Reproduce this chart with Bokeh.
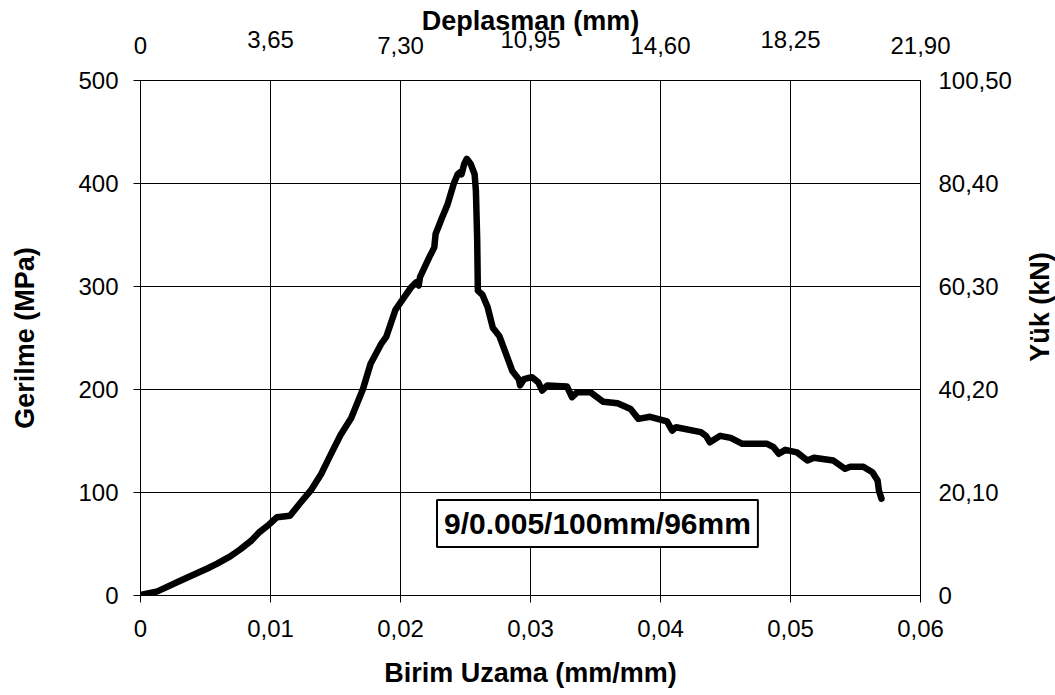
import math
from bokeh.plotting import figure
from bokeh.layouts import row
from bokeh.models import Range1d, LinearAxis, FixedTicker, Label
from bokeh.core.properties import value
from bokeh.embed import file_html
from bokeh.resources import INLINE

# ---- data ----
strain = [0.0000, 0.0013, 0.0031, 0.0051, 0.0059, 0.0069, 0.0077, 0.0085, 0.0091, 0.0099,
          0.0105, 0.0115, 0.0123, 0.0131, 0.0139, 0.0146, 0.0154, 0.0162, 0.0171, 0.0177,
          0.0185, 0.0189, 0.0196, 0.0203, 0.0208, 0.0212, 0.0214, 0.0215, 0.0222, 0.0226,
          0.0227, 0.0232, 0.0236, 0.0237, 0.0241, 0.0244, 0.0246, 0.0247, 0.0249, 0.0251,
          0.0254, 0.0257, 0.0258, 0.0259, 0.02595, 0.0263, 0.0267, 0.0270, 0.0271, 0.0276,
          0.0281, 0.0286, 0.0291, 0.0292, 0.0295, 0.0301, 0.0306, 0.0309, 0.0313, 0.0328,
          0.0332, 0.0336, 0.0346, 0.0356, 0.0367, 0.0377, 0.0383, 0.0392, 0.0405, 0.0409,
          0.0412, 0.0431, 0.0435, 0.0438, 0.0446, 0.0454, 0.0463, 0.0482, 0.0487, 0.0491,
          0.0496, 0.0505, 0.0513, 0.0518, 0.0533, 0.0542, 0.0546, 0.0556, 0.0563, 0.0567,
          0.0568, 0.0570]
stress = [0.5, 4, 14.5, 26, 31, 38, 45, 53, 61, 69,
          76, 77.5, 90, 102, 118, 136, 156, 172, 200, 225,
          244, 251, 277, 290, 299, 304, 301, 309, 328, 338,
          351, 367, 379, 383, 400, 409, 411, 409, 419, 424,
          419, 409, 393, 345, 296, 292, 280, 265, 260, 252,
          235, 218, 210, 204, 210, 212, 207, 199, 204, 203,
          192.5, 197.4, 197.4, 188, 186.7, 181, 171.5, 173.5, 169, 160,
          163.4, 158.6, 155, 148.8, 155, 153, 147.3, 147.3, 144, 137.6,
          141.4, 139, 131, 133.7, 131, 123, 125, 125, 119.7, 111.6,
          102, 94]

x_ticks = [0, 0.01, 0.02, 0.03, 0.04, 0.05, 0.06]
x_tick_labels = ["0", "0,01", "0,02", "0,03", "0,04", "0,05", "0,06"]
disp_labels = ["0", "3,65", "7,30", "10,95", "14,60", "18,25", "21,90"]
y_ticks = [0, 100, 200, 300, 400, 500]
load_labels = ["0", "20,10", "40,20", "60,30", "80,40", "100,50"]

x_title = "Birim Uzama (mm/mm)"
y_title = "Gerilme (MPa)"
top_title = "Deplasman (mm)"
right_title = "Yük (kN)"
box_text = "9/0.005/100mm/96mm"

FONT = "Liberation Sans"
H = 694
BT, BB = 80, 99

p = figure(width=1015, height=H, output_backend="svg", toolbar_location=None,
           x_range=Range1d(0, 0.06), y_range=Range1d(0, 500),
           min_border_left=140, min_border_right=95, min_border_top=BT, min_border_bottom=BB)
p.background_fill_color = "white"
p.border_fill_color = "white"
p.outline_line_color = "#000000"
p.outline_line_width = 1

# grid
p.xgrid.ticker = FixedTicker(ticks=x_ticks)
p.ygrid.ticker = FixedTicker(ticks=y_ticks)
for g in (p.xgrid, p.ygrid):
    g.grid_line_color = "#000000"
    g.grid_line_width = 1

def style_axis(ax, tick_out):
    ax.axis_line_color = "#000000"
    ax.major_tick_line_color = "#000000"
    ax.major_tick_out = tick_out
    ax.major_tick_in = 0
    ax.minor_tick_line_color = None
    ax.major_label_text_font = FONT
    ax.major_label_text_font_size = "24px"
    ax.major_label_text_color = "#000000"
    ax.axis_label_text_font = FONT
    ax.axis_label_text_font_size = "27px"
    ax.axis_label_text_font_style = "bold"
    ax.axis_label_text_color = "#000000"

xb = p.xaxis[0]
xb.ticker = FixedTicker(ticks=x_ticks)
xb.major_label_overrides = {t: l for t, l in zip(x_ticks, x_tick_labels)}
style_axis(xb, 7)
xb.major_label_standoff = 17
xb.axis_label = x_title
xb.axis_label_standoff = 18

yl = p.yaxis[0]
yl.ticker = FixedTicker(ticks=y_ticks)
yl.major_label_overrides = {t: str(t) for t in y_ticks}
style_axis(yl, 7)
yl.major_label_standoff = 15
yl.axis_label = y_title
yl.axis_label_standoff = 35

yr = LinearAxis(ticker=FixedTicker(ticks=y_ticks))
yr.major_label_overrides = {t: l for t, l in zip(y_ticks, load_labels)}
style_axis(yr, 0)
yr.major_label_standoff = 18
p.add_layout(yr, "right")

# top (displacement) axes: two staggered rows, as in the original
low_idx = [0, 2, 4, 6]
high_idx = [1, 3, 5]
ta = LinearAxis(ticker=FixedTicker(ticks=[x_ticks[i] for i in low_idx]))
ta.major_label_overrides = {x_ticks[i]: disp_labels[i] for i in low_idx}
style_axis(ta, 0)
ta.axis_line_color = None
ta.major_tick_line_color = None
ta.major_label_standoff = 27
p.add_layout(ta, "above")

tb = LinearAxis(ticker=FixedTicker(ticks=[x_ticks[i] for i in high_idx]))
tb.major_label_overrides = {x_ticks[i]: disp_labels[i] for i in high_idx}
style_axis(tb, 0)
tb.axis_line_color = None
tb.major_tick_line_color = None
tb.major_label_standoff = -14
tb.axis_label = top_title
tb.axis_label_standoff = -8
p.add_layout(tb, "above")

# curve
p.line(strain, stress, line_color="black", line_width=6.5,
       line_join="round", line_cap="round")

# annotation box
p.add_layout(Label(x=0.03515, y=70, text=box_text, text_align="center",
                   text_baseline="middle", text_font=FONT, text_font_size="30px",
                   text_font_style="bold", text_color="black",
                   background_fill_color="white", border_line_color="black",
                   border_line_width=2, padding=7))

# right-hand title (reads bottom to top), in a narrow strip sharing the y scale
p2 = figure(width=40, height=H, output_backend="svg", toolbar_location=None,
            x_range=Range1d(0, 1), y_range=p.y_range,
            x_axis_location=None, y_axis_location=None,
            min_border_left=0, min_border_right=0, min_border_top=BT, min_border_bottom=BB)
p2.grid.visible = False
p2.outline_line_color = None
p2.background_fill_color = "white"
p2.border_fill_color = "white"
p2.text(x=[0.62], y=[280], text=[right_title], angle=math.pi / 2,
        text_align="center", text_baseline="middle",
        text_font=value(FONT), text_font_size=value("27px"),
        text_font_style="bold", text_color="black")

open("out.html", "w").write(file_html(row(p, p2), INLINE))
